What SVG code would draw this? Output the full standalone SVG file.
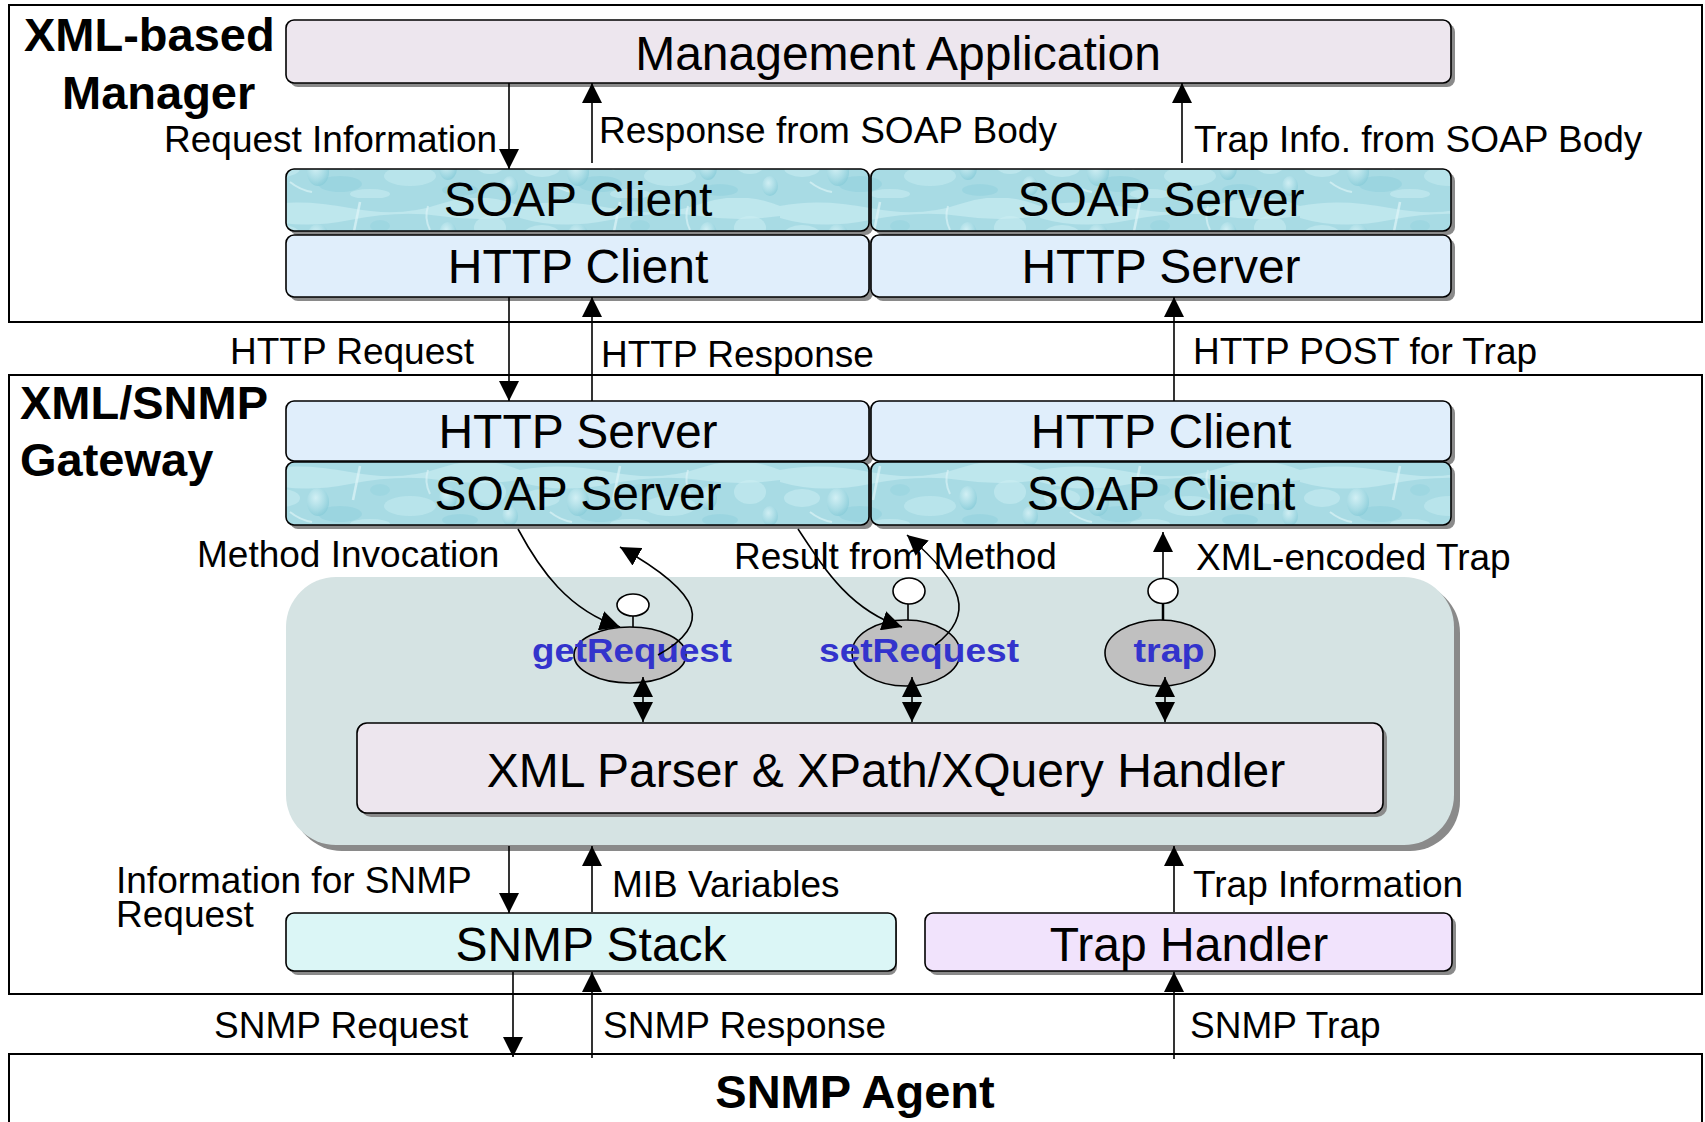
<svg xmlns="http://www.w3.org/2000/svg" width="1705" height="1122" viewBox="0 0 1705 1122">
<style>
.outer{fill:#fff;stroke:#000;stroke-width:2}
.bx{stroke:#000;stroke-width:1.6}
.sh{fill:#8a8a8a}
.t{font-family:"Liberation Sans",Arial,sans-serif;fill:#000}
.lbl{font-size:37px}
.big{font-size:48px;text-anchor:middle}
.title{font-size:47px;font-weight:bold}
.meth{font-size:34px;font-weight:bold;fill:#3333cc;text-anchor:middle}
.conn{stroke:#000;stroke-width:1.6;fill:none}
.arr{marker-end:url(#ah)}
.dbl{marker-start:url(#ah);marker-end:url(#ah)}
.http{fill:#e0eefb}
.soap{fill:url(#water)}
.app{fill:#ede6ee}
.oval{fill:#c0c0c0;stroke:#000;stroke-width:1.6}
.lolly{fill:#fff;stroke:#000;stroke-width:1.6}
.lt{fill:#cdeff4}
.dk{fill:#8ccfdb}
</style>
<defs>
<marker id="ah" viewBox="0 0 20 20" refX="20" refY="10" markerWidth="20" markerHeight="20" markerUnits="userSpaceOnUse" orient="auto-start-reverse">
<path d="M0,0 L20,10 L0,20 z" fill="#000"/>
</marker>
<radialGradient id="drop" cx="0.4" cy="0.35" r="0.7">
<stop offset="0" stop-color="#d8f3f7"/>
<stop offset="0.6" stop-color="#a9dce5"/>
<stop offset="1" stop-color="#86cbd8"/>
</radialGradient>
<pattern id="water" patternUnits="userSpaceOnUse" width="260" height="66" x="0" y="0">
<rect width="260" height="66" fill="#a8dbe4"/>
<path d="M0,8 Q40,0 90,10 T180,6 T260,8 L260,18 Q220,24 180,18 T90,22 T0,20Z" class="lt" opacity="0.6"/>
<ellipse class="lt" cx="22" cy="36" rx="18" ry="9" opacity="0.5"/>
<ellipse class="lt" cx="150" cy="44" rx="26" ry="10" opacity="0.45"/>
<ellipse class="lt" cx="230" cy="30" rx="16" ry="12" opacity="0.5"/>
<ellipse class="dk" cx="80" cy="52" rx="22" ry="8" opacity="0.45"/>
<ellipse class="dk" cx="200" cy="58" rx="18" ry="6" opacity="0.45"/>
<ellipse class="dk" cx="120" cy="28" rx="10" ry="6" opacity="0.35"/>
<ellipse cx="58" cy="40" rx="11" ry="14" fill="url(#drop)" opacity="0.85"/>
<ellipse cx="188" cy="36" rx="9" ry="12" fill="url(#drop)" opacity="0.85"/>
<ellipse cx="250" cy="54" rx="8" ry="10" fill="url(#drop)" opacity="0.8"/>
<path d="M100,4 L93,38" stroke="#dff5f8" stroke-width="2.5" opacity="0.7"/>
<path d="M168,8 Q164,20 170,32" stroke="#dff5f8" stroke-width="2" fill="none" opacity="0.6"/>
<path d="M30,50 Q40,58 52,60" stroke="#e2f6f9" stroke-width="2" fill="none" opacity="0.6"/>
<ellipse class="lt" cx="110" cy="62" rx="20" ry="5" opacity="0.5"/>
</pattern>
</defs>

<g id="frames">
<rect id="manager-frame" class="outer" x="9" y="5" width="1693" height="317"/>
<rect id="gateway-frame" class="outer" x="9" y="375" width="1693" height="619"/>
<rect id="agent-frame" class="outer" x="9" y="1054" width="1693" height="90"/>
</g>

<g id="titles">
<text class="t title" x="24" y="51">XML-based</text>
<text class="t title" x="62" y="109">Manager</text>
<text class="t title" x="20" y="419">XML/SNMP</text>
<text class="t title" x="20" y="476">Gateway</text>
<text class="t title" x="855" y="1108" text-anchor="middle">SNMP Agent</text>
</g>

<g id="mgmt-app">
<rect class="sh" x="290" y="24" width="1165" height="63" rx="8"/>
<rect class="bx app" x="286" y="20" width="1165" height="63" rx="8"/>
<text class="t big" x="898" y="70">Management Application</text>
</g>

<g id="mgr-soap-client">
<rect class="sh" x="290" y="173" width="583" height="62" rx="8"/>
<rect class="bx soap" x="286" y="169" width="583" height="62" rx="8"/>
<text class="t big" x="578" y="216">SOAP Client</text>
</g>
<g id="mgr-soap-server">
<rect class="sh" x="875" y="173" width="580" height="62" rx="8"/>
<rect class="bx soap" x="871" y="169" width="580" height="62" rx="8"/>
<text class="t big" x="1161" y="216">SOAP Server</text>
</g>
<g id="mgr-http-client">
<rect class="sh" x="290" y="239" width="583" height="62" rx="8"/>
<rect class="bx http" x="286" y="235" width="583" height="62" rx="8"/>
<text class="t big" x="578" y="283">HTTP Client</text>
</g>
<g id="mgr-http-server">
<rect class="sh" x="875" y="239" width="580" height="62" rx="8"/>
<rect class="bx http" x="871" y="235" width="580" height="62" rx="8"/>
<text class="t big" x="1161" y="283">HTTP Server</text>
</g>

<g id="gw-http-server">
<rect class="sh" x="290" y="405" width="583" height="60" rx="8"/>
<rect class="bx http" x="286" y="401" width="583" height="60" rx="8"/>
<text class="t big" x="578" y="448">HTTP Server</text>
</g>
<g id="gw-http-client">
<rect class="sh" x="875" y="405" width="580" height="60" rx="8"/>
<rect class="bx http" x="871" y="401" width="580" height="60" rx="8"/>
<text class="t big" x="1161" y="448">HTTP Client</text>
</g>
<g id="gw-soap-server">
<rect class="sh" x="290" y="466" width="583" height="63" rx="8"/>
<rect class="bx soap" x="286" y="462" width="583" height="63" rx="8"/>
<text class="t big" x="578" y="510">SOAP Server</text>
</g>
<g id="gw-soap-client">
<rect class="sh" x="875" y="466" width="580" height="63" rx="8"/>
<rect class="bx soap" x="871" y="462" width="580" height="63" rx="8"/>
<text class="t big" x="1161" y="510">SOAP Client</text>
</g>

<g id="gw-component">
<rect x="292" y="583" width="1168" height="268" rx="50" fill="#8a8a8a"/>
<rect x="286" y="577" width="1168" height="268" rx="50" fill="#d5e3e3"/>
</g>

<g id="xml-parser">
<rect class="sh" x="361" y="727" width="1026" height="90" rx="10"/>
<rect class="bx app" x="357" y="723" width="1026" height="90" rx="10"/>
<text class="t big" x="886" y="787">XML Parser &amp; XPath/XQuery Handler</text>
</g>

<g id="getRequest">
<line class="conn" x1="633" y1="616" x2="633" y2="628"/>
<ellipse class="lolly" cx="633" cy="605" rx="16" ry="11"/>
<ellipse class="oval" cx="630" cy="655" rx="56" ry="28"/>
<text class="t meth" x="632" y="662" textLength="200" lengthAdjust="spacingAndGlyphs">getRequest</text>
</g>
<g id="setRequest">
<line class="conn" x1="908" y1="604" x2="908" y2="620"/>
<ellipse class="lolly" cx="909" cy="591" rx="16" ry="13"/>
<ellipse class="oval" cx="906" cy="653" rx="54" ry="33"/>
<text class="t meth" x="919" y="662" textLength="200" lengthAdjust="spacingAndGlyphs">setRequest</text>
</g>
<g id="trap">
<line x1="1163" y1="603" x2="1163" y2="620" stroke="#000" stroke-width="2.5"/>
<ellipse class="lolly" cx="1163" cy="591" rx="15" ry="12.5"/>
<ellipse class="oval" cx="1160" cy="653" rx="55" ry="33"/>
<text class="t meth" x="1169" y="662" textLength="71" lengthAdjust="spacingAndGlyphs">trap</text>
</g>

<g id="snmp-stack">
<rect class="sh" x="290" y="917" width="607" height="58" rx="8"/>
<rect class="bx" x="286" y="913" width="610" height="58" rx="8" fill="#dbf6f6"/>
<text class="t big" x="591" y="961">SNMP Stack</text>
</g>
<g id="trap-handler">
<rect class="sh" x="929" y="917" width="527" height="58" rx="8"/>
<rect class="bx" x="925" y="913" width="527" height="58" rx="8" fill="#f1e3fc"/>
<text class="t big" x="1189" y="961">Trap Handler</text>
</g>

<g id="connectors">
<line class="conn arr" x1="509" y1="83" x2="509" y2="169"/>
<line class="conn arr" x1="592" y1="163" x2="592" y2="83"/>
<line class="conn arr" x1="1182" y1="163" x2="1182" y2="83"/>
<line class="conn arr" x1="509" y1="297" x2="509" y2="401"/>
<line class="conn arr" x1="592" y1="401" x2="592" y2="297"/>
<line class="conn arr" x1="1174" y1="401" x2="1174" y2="297"/>
<path class="conn arr" d="M518,529 C540,570 568,610 620,627"/>
<path class="conn arr" d="M658,655 C712,625 705,595 620,547"/>
<path class="conn arr" d="M798,529 C825,570 850,610 902,627"/>
<path class="conn arr" d="M935,645 C975,615 965,585 907,535"/>
<line class="conn arr" x1="1163" y1="578" x2="1163" y2="532"/>
<line class="conn dbl" x1="643" y1="677" x2="643" y2="722"/>
<line class="conn dbl" x1="912" y1="677" x2="912" y2="722"/>
<line class="conn dbl" x1="1165" y1="677" x2="1165" y2="722"/>
<line class="conn arr" x1="509" y1="846" x2="509" y2="913"/>
<line class="conn arr" x1="592" y1="912" x2="592" y2="846"/>
<line class="conn arr" x1="1174" y1="912" x2="1174" y2="846"/>
<line class="conn arr" x1="513" y1="972" x2="513" y2="1057"/>
<line class="conn arr" x1="592" y1="1058" x2="592" y2="972"/>
<line class="conn arr" x1="1174" y1="1059" x2="1174" y2="972"/>
</g>

<g id="labels">
<text class="t lbl" x="164" y="152">Request Information</text>
<text class="t lbl" x="599" y="143">Response from SOAP Body</text>
<text class="t lbl" x="1194" y="152">Trap Info. from SOAP Body</text>
<text class="t lbl" x="474" y="364" text-anchor="end">HTTP Request</text>
<text class="t lbl" x="601" y="367">HTTP Response</text>
<text class="t lbl" x="1193" y="364">HTTP POST for Trap</text>
<text class="t lbl" x="197" y="567">Method Invocation</text>
<text class="t lbl" x="734" y="569">Result from Method</text>
<text class="t lbl" x="1196" y="570">XML-encoded Trap</text>
<text class="t lbl" x="116" y="893"><tspan x="116" y="893">Information for SNMP</tspan><tspan x="116" y="927">Request</tspan></text>
<text class="t lbl" x="612" y="897">MIB Variables</text>
<text class="t lbl" x="1193" y="897">Trap Information</text>
<text class="t lbl" x="214" y="1038">SNMP Request</text>
<text class="t lbl" x="603" y="1038">SNMP Response</text>
<text class="t lbl" x="1190" y="1038">SNMP Trap</text>
</g>
</svg>
